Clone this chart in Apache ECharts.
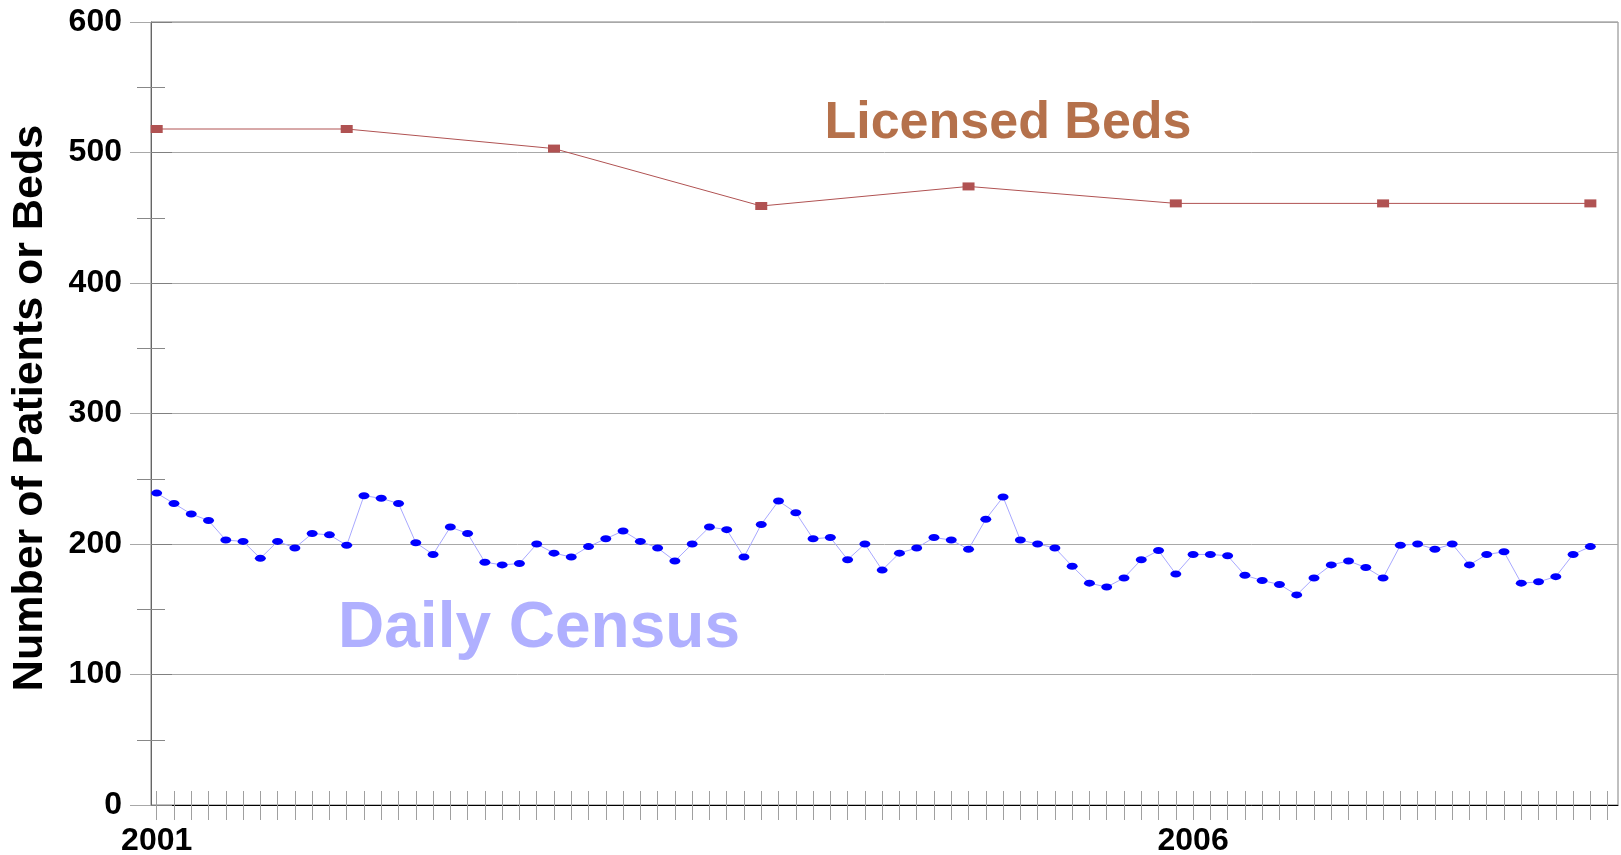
<!DOCTYPE html>
<html>
<head>
<meta charset="utf-8">
<title>Daily Census vs Licensed Beds</title>
<script src="https://cdn.jsdelivr.net/npm/echarts@6/dist/echarts.min.js"></script>
<style>
    html, body { margin: 0; padding: 0; background: #fff; }
    #chart { width: 1621px; height: 855px; }
</style>
</head>
<body>
<div id="chart"></div>
<script>
// monthly census, Jan 2001 .. Dec 2007
var censusValues = [
    239, 231, 223, 218, 203, 202, 189, 202, 197, 208, 207, 199,
    237, 235, 231, 201, 192, 213, 208, 186, 184, 185, 200, 193,
    190, 198, 204, 210, 202, 197, 187, 200, 213, 211, 190, 215,
    233, 224, 204, 205, 188, 200, 180, 193, 197, 205, 203, 196,
    219, 236, 203, 200, 197, 183, 170, 167, 174, 188, 195, 177,
    192, 192, 191, 176, 172, 169, 161, 174, 184, 187, 182, 174,
    199, 200, 196, 200, 184, 192, 194, 170, 171, 175, 192, 198
];
// licensed beds, month index from Jan 2001
var bedsMonths = [0, 11, 23, 35, 47, 59, 71, 83];
var bedsValues = [518, 518, 503, 459, 474, 461, 461, 461];

var firstYear = 2001;
var yearLabels = ['2001', '2006'];
var yTicks = [0, 100, 200, 300, 400, 500, 600];

(function () {
    var myechart = echarts.init(document.getElementById('chart'));

    var censusData = [];
    for (var i = 0; i < censusValues.length; i++) {
        censusData.push([i, censusValues[i]]);
    }
    var bedsData = [];
    for (var j = 0; j < bedsValues.length; j++) {
        bedsData.push([bedsMonths[j], bedsValues[j]]);
    }
    var monthTicks = [];
    for (var k = 0; k <= censusValues.length; k++) {
        monthTicks.push(k);
    }
    var labelMonths = [];
    for (var m = 0; m < yearLabels.length; m++) {
        labelMonths.push((parseInt(yearLabels[m], 10) - firstYear) * 12);
    }

    var font = 'Liberation Sans, Arial, sans-serif';
    var yMin = yTicks[0], yMax = yTicks[yTicks.length - 1];
    var yStep = yTicks[1] - yTicks[0];

    var options = {
        animation: false,
        grid: {
            left: 151, top: 22, right: 3, bottom: 50,
            outerBoundsMode: 'none', containLabel: false,
            show: true, borderColor: '#808080', borderWidth: 1
        },
        xAxis: [
            {
                type: 'value', min: -0.33, max: 84.6,
                axisLine: { onZero: false, lineStyle: { color: '#000', width: 1 } },
                axisTick: { customValues: monthTicks, length: 15, lineStyle: { color: '#a0a0a0' } },
                axisLabel: {
                    customValues: labelMonths, margin: 20,
                    fontFamily: font, fontWeight: 'bold', fontSize: 32, color: '#000',
                    formatter: function (v) { return String(firstYear + Math.round(v / 12)); }
                },
                splitLine: { show: false }
            },
            {
                type: 'value', min: -0.33, max: 84.6, position: 'bottom',
                axisLine: { show: false, onZero: false },
                axisTick: { customValues: monthTicks, inside: true, length: 14, lineStyle: { color: '#a0a0a0' } },
                axisLabel: { show: false },
                splitLine: { show: false }
            }
        ],
        yAxis: [
            {
                type: 'value', min: yMin, max: yMax, interval: yStep,
                axisLine: { show: true, onZero: false, lineStyle: { color: '#666', width: 1 } },
                axisTick: { length: 21, lineStyle: { color: '#a8a8a8' } },
                minorTick: { show: true, splitNumber: 2, length: 14, lineStyle: { color: '#888' } },
                axisLabel: {
                    margin: 29, fontFamily: font, fontWeight: 'bold', fontSize: 32, color: '#000'
                },
                splitLine: { show: true, lineStyle: { color: '#a8a8a8', width: 1 } }
            },
            {
                type: 'value', min: yMin, max: yMax, interval: yStep, position: 'left',
                axisLine: { show: false, onZero: false },
                axisTick: { inside: true, length: 21, lineStyle: { color: '#808080' } },
                minorTick: { show: true, splitNumber: 2, length: 14, lineStyle: { color: '#888' } },
                axisLabel: { show: false },
                splitLine: { show: false }
            }
        ],
        series: [
            {
                name: 'Daily Census',
                type: 'line',
                data: censusData,
                symbol: 'circle',
                symbolSize: [11, 7],
                itemStyle: { color: '#0000ff' },
                lineStyle: { color: '#a8a8ff', width: 1 },
                z: 3
            },
            {
                name: 'Licensed Beds',
                type: 'line',
                data: bedsData,
                symbol: 'rect',
                symbolSize: [12, 8],
                itemStyle: { color: '#b05252' },
                lineStyle: { color: '#b05252', width: 1 },
                z: 4
            }
        ],
        graphic: [
            {
                type: 'text', x: 1008, y: 124,
                style: {
                    text: 'Licensed Beds', textAlign: 'center', textVerticalAlign: 'middle',
                    font: 'bold 52px ' + font, fill: '#b5714b'
                }
            },
            {
                type: 'text', x: 539, y: 629,
                style: {
                    text: 'Daily Census', textAlign: 'center', textVerticalAlign: 'middle',
                    font: 'bold 64px ' + font, fill: '#b0b0ff'
                }
            },
            {
                type: 'text', x: 30, y: 408, rotation: Math.PI / 2,
                style: {
                    text: 'Number of Patients or Beds', textAlign: 'center', textVerticalAlign: 'middle',
                    font: 'bold 43px ' + font, fill: '#000'
                }
            }
        ]
    };
    myechart.setOption(options);
})();
</script>
</body>
</html>
